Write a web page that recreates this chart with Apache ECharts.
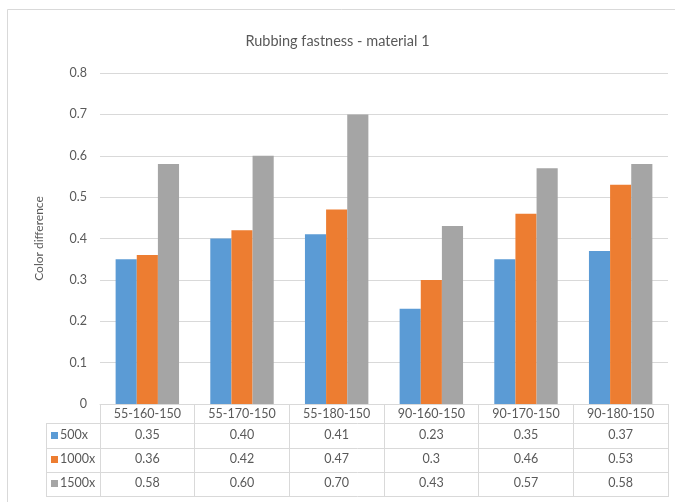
<!DOCTYPE html>
<html>
<head>
<meta charset="utf-8">
<script src="https://cdn.jsdelivr.net/npm/echarts@6/dist/echarts.min.js"></script>
<style>
  html, body { margin: 0; padding: 0; background: #ffffff; }
  #chart { width: 675px; height: 502px; }
</style>
</head>
<body>
<div id="chart"></div>
<script>
// Sample conditions and measured colour difference per magnification
const categories = ['55-160-150', '55-170-150', '55-180-150', '90-160-150', '90-170-150', '90-180-150'];
const seriesNames = ['500x', '1000x', '1500x'];
const values500 = [0.35, 0.40, 0.41, 0.23, 0.35, 0.37];
const values1000 = [0.36, 0.42, 0.47, 0.30, 0.46, 0.53];
const values1500 = [0.58, 0.60, 0.70, 0.43, 0.57, 0.58];
// Decimal places shown in the data table for each row (null = shortest form)
const tableDecimals = [2, null, 2];
const yTicks = { min: 0, max: 0.8, interval: 0.1 };

const colors = ['#5b9bd5', '#ed7d31', '#a5a5a5'];
const allValues = [values500, values1000, values1500];
const FONT = 'Lato, "Open Sans", sans-serif';
const TEXT = '#595959';
const LINE = '#d9d9d9';

const gridLeft = 100, gridRight = 7, gridTop = 73, gridBottom = 98;
const rowOffsets = [31, 55, 79];   // label centre distance below the axis for each table row

function fmt(v, d) {
  return d == null ? String(v) : v.toFixed(d);
}

const chart = echarts.init(document.getElementById('chart'), null, { renderer: 'canvas' });

// Header row = main category axis; each data row is an extra label-only axis
const xAxes = [{
  type: 'category',
  data: categories,
  axisLine: { show: true, lineStyle: { color: LINE, width: 1 } },
  axisTick: { show: true, length: 92, lineStyle: { color: LINE, width: 1 } },
  axisLabel: { color: TEXT, fontFamily: FONT, fontSize: 12.5, margin: 10, verticalAlign: 'middle', interval: 0 },
  splitLine: { show: false }
}];
allValues.forEach((vals, r) => {
  xAxes.push({
    type: 'category',
    data: categories,
    position: 'bottom',
    axisLine: { show: false },
    axisTick: { show: false },
    axisLabel: {
      color: TEXT, fontFamily: FONT, fontSize: 12.5,
      margin: rowOffsets[r], verticalAlign: 'middle', interval: 0,
      formatter: (v, i) => fmt(vals[i], tableDecimals[r])
    }
  });
});

const option = {
  backgroundColor: '#ffffff',
  animation: false,
  title: {
    text: 'Rubbing fastness - material 1',
    left: 'center',
    top: 29,
    textStyle: { color: TEXT, fontFamily: FONT, fontSize: 14.5, fontWeight: 'normal' }
  },
  grid: { left: gridLeft, right: gridRight, top: gridTop, bottom: gridBottom, containLabel: false },
  xAxis: xAxes,
  yAxis: {
    type: 'value',
    min: yTicks.min, max: yTicks.max, interval: yTicks.interval,
    name: 'Color difference',
    nameLocation: 'middle',
    nameGap: 55,
    nameRotate: 90,
    nameTextStyle: { color: TEXT, fontFamily: FONT, fontSize: 12 },
    axisLine: { show: false },
    axisTick: { show: false },
    axisLabel: { color: TEXT, fontFamily: FONT, fontSize: 12.5, margin: 13,
      formatter: v => (v === 0 ? '0' : v.toFixed(1)) },
    splitLine: { lineStyle: { color: LINE, width: 1 } }
  },
  series: allValues.map((vals, i) => ({
    name: seriesNames[i],
    type: 'bar',
    xAxisIndex: 0,
    data: vals,
    barGap: '0%',
    barCategoryGap: '33%',
    itemStyle: { color: colors[i] }
  }))
};

chart.setOption(option);

// Table frame and row headers with colour keys
const x0 = gridLeft;
const x1 = 675 - gridRight;
const yAxis0 = chart.convertToPixel({ yAxisIndex: 0 }, 0);
const keyLeft = 46;
const rowBounds = [yAxis0 + 19, yAxis0 + 44, yAxis0 + 68, yAxis0 + 92];
const graphics = [
  // outer chart border
  { type: 'rect', shape: { x: 7.5, y: 9.5, width: 700, height: 600 }, style: { fill: null, stroke: LINE, lineWidth: 1 }, silent: true },
  { type: 'line', shape: { x1: keyLeft + 0.5, y1: rowBounds[0], x2: keyLeft + 0.5, y2: rowBounds[3] }, style: { stroke: LINE, lineWidth: 1 }, silent: true },
  { type: 'line', shape: { x1: x1 + 0.5, y1: yAxis0, x2: x1 + 0.5, y2: rowBounds[3] }, style: { stroke: LINE, lineWidth: 1 }, silent: true }
];
rowBounds.forEach(y => {
  graphics.push({ type: 'line', shape: { x1: keyLeft, y1: Math.round(y) + 0.5, x2: x1 + 1, y2: Math.round(y) + 0.5 }, style: { stroke: LINE, lineWidth: 1 }, silent: true });
});
seriesNames.forEach((name, r) => {
  const cy = yAxis0 + rowOffsets[r];
  graphics.push({ type: 'rect', shape: { x: 51, y: Math.round(cy) - 3, width: 7, height: 7 }, style: { fill: colors[r] }, silent: true });
  graphics.push({ type: 'text', x: 60, y: cy, style: { text: name, fill: TEXT, font: '12.5px ' + FONT, verticalAlign: 'middle', align: 'left' }, silent: true });
});
chart.setOption({ graphic: graphics });
</script>
</body>
</html>
